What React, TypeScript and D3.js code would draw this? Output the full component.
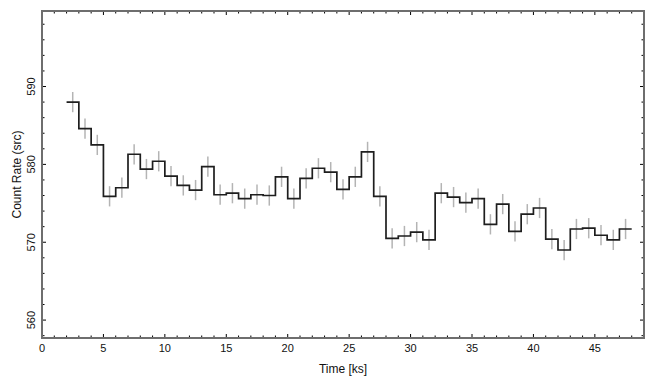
import React from "react";
import * as d3 from "d3";

const binStarts: number[] = [2,3,4,5,6,7,8,9,10,11,12,13,14,15,16,17,18,19,20,21,22,23,24,25,26,27,28,29,30,31,32,33,34,35,36,37,38,39,40,41,42,43,44,45,46,47];
const rates: number[] = [588.0,584.6,582.5,575.9,577.0,581.3,579.4,580.4,578.5,577.3,576.7,579.7,576.1,576.3,575.6,576.1,576.0,578.4,575.6,578.2,579.5,579.0,576.8,578.4,581.6,575.9,570.5,570.8,571.3,570.3,576.3,575.8,575.1,575.6,572.3,574.9,571.4,573.6,574.4,570.4,569.0,571.7,571.8,570.9,570.3,571.7];
const errors: number[] = rates.map(() => 1.3);
const binWidth = 1;
const xTicks: number[] = [0,5,10,15,20,25,30,35,40,45];
const yTicks: number[] = [560,570,580,590];

const W = 655, H = 385;
const L = 42, R = 644, T = 11, B = 338;

export default function App() {
  const x = d3.scaleLinear().domain([0, 49]).range([L, R]);
  const y = d3.scaleLinear().domain([557.7, 599.7]).range([B, T]);

  const pts: [number, number][] = binStarts.map((t, i) => [t, rates[i]]);
  pts.push([binStarts[binStarts.length - 1] + binWidth, rates[rates.length - 1]]);
  const line = d3.line<[number, number]>().x(d => x(d[0])).y(d => y(d[1])).curve(d3.curveStepAfter);

  const xMinor = d3.range(0, 50, 1).filter(v => v % 5 !== 0);
  const yMinor = d3.range(558, 600, 2).filter(v => v % 10 !== 0);
  const font = "'Liberation Sans', Arial, Helvetica, sans-serif";
  const maj = 4, mnr = 2.5;

  return (
    <svg width={W} height={H} style={{ position: "absolute", left: 0, top: 0 }} fontFamily={font}>
      <rect x={0} y={0} width={W} height={H} fill="#fff" />
      {binStarts.map((t, i) => (
        <g key={"e" + i} stroke="#b4b4b4" strokeWidth={1.5}>
          <line x1={x(t + binWidth / 2)} x2={x(t + binWidth / 2)} y1={y(rates[i] - errors[i])} y2={y(rates[i] + errors[i])} />
        </g>
      ))}
      <path d={line(pts) || ""} fill="none" stroke="#1e1e1e" strokeWidth={1.7} />
      <g stroke="#000" strokeWidth={1}>
        {xTicks.map(v => (
          <g key={"xt" + v}>
            <line x1={x(v)} x2={x(v)} y1={B} y2={B - maj} />
            <line x1={x(v)} x2={x(v)} y1={T} y2={T + maj} />
          </g>
        ))}
        {xMinor.map(v => (
          <g key={"xm" + v}>
            <line x1={x(v)} x2={x(v)} y1={B} y2={B - mnr} />
            <line x1={x(v)} x2={x(v)} y1={T} y2={T + mnr} />
          </g>
        ))}
        {yTicks.map(v => (
          <g key={"yt" + v}>
            <line x1={L} x2={L + maj} y1={y(v)} y2={y(v)} />
            <line x1={R} x2={R - maj} y1={y(v)} y2={y(v)} />
          </g>
        ))}
        {yMinor.map(v => (
          <g key={"ym" + v}>
            <line x1={L} x2={L + mnr} y1={y(v)} y2={y(v)} />
            <line x1={R} x2={R - mnr} y1={y(v)} y2={y(v)} />
          </g>
        ))}
      </g>
      <rect x={L} y={T} width={R - L} height={B - T} fill="none" stroke="#6e6e6e" strokeWidth={2} />
      {xTicks.map(v => (
        <text key={"xl" + v} x={x(v)} y={352} fontSize={11} textAnchor="middle" fill="#111">{v}</text>
      ))}
      {yTicks.map(v => (
        <text key={"yl" + v} transform={`translate(35,${y(v)}) rotate(-90)`} fontSize={11} textAnchor="middle" fill="#111">{v}</text>
      ))}
      <text x={(L + R) / 2} y={373} fontSize={12} textAnchor="middle" fill="#111">Time [ks]</text>
      <text transform={`translate(21,${(T + B) / 2}) rotate(-90)`} fontSize={12} textAnchor="middle" fill="#111">Count Rate (src)</text>
    </svg>
  );
}
